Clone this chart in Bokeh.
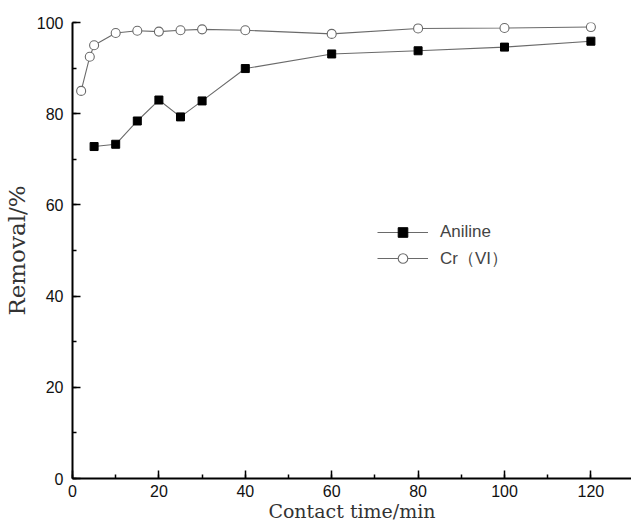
from bokeh.plotting import figure
from bokeh.models import SingleIntervalTicker, Legend, LegendItem, Range1d
from bokeh.embed import file_html
from bokeh.resources import INLINE

# Data
aniline_t = [5, 10, 15, 20, 25, 30, 40, 60, 80, 100, 120]
aniline_r = [72.8, 73.3, 78.4, 83.0, 79.3, 82.8, 89.9, 93.1, 93.8, 94.6, 95.9]
cr_t = [2, 4, 5, 10, 15, 20, 25, 30, 40, 60, 80, 100, 120]
cr_r = [85.0, 92.5, 95.0, 97.7, 98.2, 98.0, 98.3, 98.5, 98.3, 97.5, 98.7, 98.8, 99.0]
series_names = ["Aniline", "Cr（VI）"]

p = figure(width=631, height=524, output_backend="svg", toolbar_location=None,
           x_range=Range1d(0, 129.4), y_range=Range1d(0, 100),
           min_border_left=72, min_border_right=0, min_border_top=22, min_border_bottom=46)
p.outline_line_color = None
p.grid.visible = False
p.background_fill_color = "white"
p.border_fill_color = "white"

line_col = "#6a6a6a"
l1 = p.line(aniline_t, aniline_r, line_color=line_col, line_width=1.1)
s1 = p.scatter(aniline_t, aniline_r, marker="square", size=8, fill_color="black", line_color="black")
l2 = p.line(cr_t, cr_r, line_color=line_col, line_width=1.1)
s2 = p.scatter(cr_t, cr_r, marker="circle", size=9, fill_color="white", line_color="#6a6a6a", line_width=1.1)

for ax in (p.xaxis[0], p.yaxis[0]):
    ax.ticker = SingleIntervalTicker(interval=20, num_minor_ticks=2)
    ax.axis_line_width = 2
    ax.axis_line_color = "black"
    ax.major_tick_in = 8
    ax.major_tick_out = 0
    ax.minor_tick_in = 4
    ax.minor_tick_out = 0
    ax.major_tick_line_width = 1.5
    ax.minor_tick_line_width = 1.5
    ax.major_label_text_font = "Liberation Sans"
    ax.major_label_text_color = "#111111"
    ax.axis_label_text_font = "DejaVu Serif"
    ax.axis_label_text_font_style = "normal"
    ax.axis_label_text_color = "#333333"

p.xaxis[0].major_label_text_font_size = "16px"
p.xaxis[0].major_label_standoff = 6
p.xaxis[0].axis_label = "Contact time/min"
p.xaxis[0].axis_label_text_font_size = "19px"
p.xaxis[0].axis_label_standoff = 0

p.yaxis[0].major_label_text_font_size = "16px"
p.yaxis[0].major_label_standoff = 9
p.yaxis[0].axis_label = "Removal/%"
p.yaxis[0].axis_label_text_font_size = "23px"
p.yaxis[0].axis_label_standoff = 4

legend = Legend(items=[LegendItem(label=series_names[0], renderers=[l1, s1]),
                       LegendItem(label=series_names[1], renderers=[l2, s2])],
                location=(305, 208), glyph_width=51, glyph_height=24, spacing=2,
                padding=0, margin=0, label_standoff=12,
                label_text_font="Liberation Sans", label_text_font_size="17px",
                border_line_color=None, background_fill_alpha=0)
p.add_layout(legend, "center")

open("out.html", "w").write(file_html(p, INLINE))
